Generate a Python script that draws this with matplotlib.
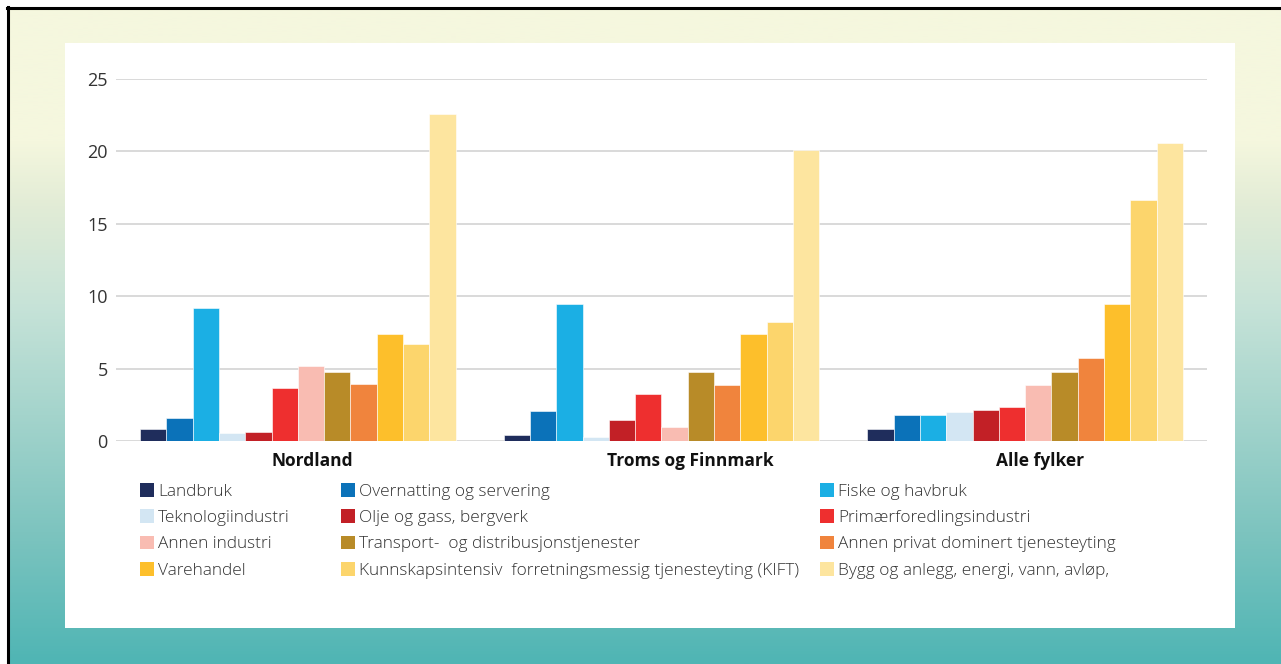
import matplotlib.pyplot as plt
import numpy as np
from matplotlib.colors import LinearSegmentedColormap
from matplotlib.patches import Rectangle

plt.rcParams['font.family'] = ['Open Sans', 'DejaVu Sans']

# Data
regions = ['Nordland', 'Troms og Finnmark', 'Alle fylker']
sectors = [
    'Landbruk', 'Overnatting og servering', 'Fiske og havbruk',
    'Teknologiindustri', 'Olje og gass, bergverk', 'Primærforedlingsindustri',
    'Annen industri', 'Transport-  og distribusjonstjenester', 'Annen privat dominert tjenesteyting',
    'Varehandel', 'Kunnskapsintensiv  forretningsmessig tjenesteyting (KIFT)', 'Bygg og anlegg, energi, vann, avløp,',
]
nordland = [0.8, 1.6, 9.2, 0.55, 0.65, 3.65, 5.15, 4.75, 3.95, 7.4, 6.7, 22.55]
troms_finnmark = [0.4, 2.05, 9.45, 0.25, 1.45, 3.25, 1.0, 4.75, 3.9, 7.4, 8.25, 20.1]
alle_fylker = [0.8, 1.8, 1.8, 2.0, 2.15, 2.35, 3.9, 4.75, 5.7, 9.45, 16.65, 20.55]
colors = ['#1F2D5C', '#0B72B9', '#1BAFE4', '#D3E6F3', '#C22026', '#EE2F2F',
          '#F9BCB2', '#B88B28', '#F0843D', '#FDBF2B', '#FCD56C', '#FDE59F']

W, H = 1281, 664
fig = plt.figure(figsize=(W / 100, H / 100), dpi=100)
fig.patch.set_facecolor('white')

# gradient background
bg = fig.add_axes([9 / W, 0, 1 - 9 / W, 1 - 9 / H], zorder=-3)
cmap = LinearSegmentedColormap.from_list('bg', [
    (0.0, '#F5F7DE'), (0.2, '#F5F7DE'), (0.3, '#E2ECD6'), (0.45, '#C7E3D8'),
    (0.62, '#A4D4CC'), (0.8, '#7DC4BF'), (1.0, '#4FB5B4')])
bg.imshow(np.linspace(0, 1, 256).reshape(-1, 1), aspect='auto', cmap=cmap,
          extent=[0, 1, 1, 0])
bg.set_xlim(0, 1)
bg.set_ylim(1, 0)
bg.axis('off')

# border lines
fig.add_artist(plt.Line2D([7 / W, 1], [1 - 8 / H, 1 - 8 / H], color='black', lw=2.2))
fig.add_artist(plt.Line2D([8 / W, 8 / W], [0, 1 - 7 / H], color='black', lw=2.2))

# white panel
fig.add_artist(Rectangle((65 / W, 1 - 628 / H), 1170 / W, 585 / H,
                         transform=fig.transFigure, facecolor='white',
                         edgecolor='none', zorder=-2))

ax = fig.add_axes([116 / W, 1 - 441 / H, 1091 / W, 362 / H])
ax.set_facecolor('none')

x = np.arange(len(regions))
w = 0.0723
bars = []
for i, sector in enumerate(sectors):
    vals = [nordland[i], troms_finnmark[i], alle_fylker[i]]
    b = ax.bar(x + (i - 5.5) * w, vals, width=w, color=colors[i],
               edgecolor='white', linewidth=0.4, label=sector, zorder=3)
    bars.append(b)

ax.set_xlim(-0.5, 2.5)
ax.set_ylim(0, 25)
ax.set_yticks([0, 5, 10, 15, 20, 25])
ax.yaxis.grid(True, color='#D9D9D9', linewidth=1.4, zorder=0)
ax.tick_params(axis='y', length=0, pad=6, labelsize=13, labelcolor='#333333')
ax.set_xticks(x + np.array([0.04, 0.08, 0.04]))
ax.set_xticklabels(regions, fontsize=12.5, fontweight='bold', color='#111111')
ax.tick_params(axis='x', length=0, pad=8)
for s in ax.spines.values():
    s.set_visible(False)

# legend in three columns, filled row-wise
col_x = [140, 341, 820]
for c in range(3):
    idx = [c, c + 3, c + 6, c + 9]
    leg = fig.legend([bars[k] for k in idx], [sectors[k] for k in idx],
                     loc='upper left', bbox_to_anchor=(col_x[c] / W, 1 - 483 / H),
                     frameon=False, ncol=1, handlelength=0.83, handleheight=0.83,
                     handletextpad=0.22, labelspacing=0.56, borderpad=0, borderaxespad=0,
                     prop={'size': 12.4, 'weight': 'light'})
    for t in leg.get_texts():
        t.set_color('#333333')
    for p in leg.get_patches():
        p.set_linewidth(0)

fig.savefig('out.png', dpi=100)
